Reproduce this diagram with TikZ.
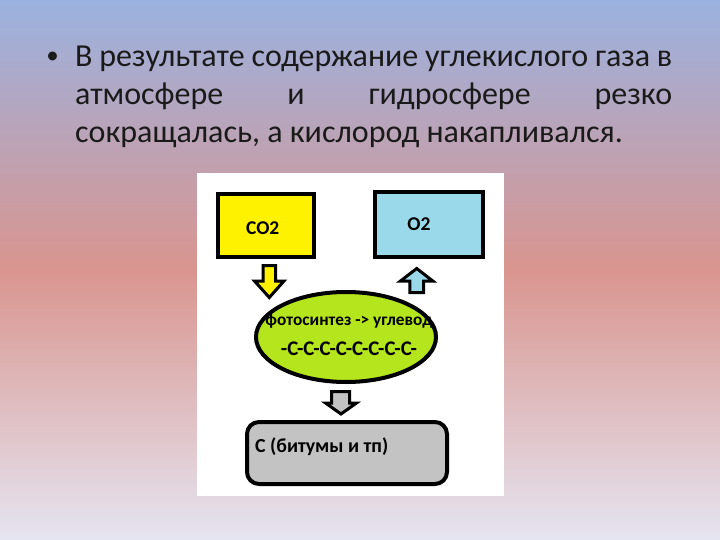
\documentclass[tikz,border=0pt]{standalone}
\usepackage{fontspec}
\setmainfont{Carlito}
\usetikzlibrary{shapes.geometric}
\definecolor{bgtop}{HTML}{9BB2E0}
\definecolor{bgmid}{HTML}{D9958F}
\definecolor{bgbot}{HTML}{E5E5F1}
\definecolor{yel}{HTML}{FFF200}
\definecolor{sky}{HTML}{99D9EA}
\definecolor{lime}{HTML}{B5E61D}
\definecolor{grayfill}{HTML}{C3C3C3}
\definecolor{ink}{HTML}{1A1A1A}
\begin{document}
\begin{tikzpicture}[x=1pt,y=-1pt,
  titletext/.style={anchor=base west,inner sep=0pt,font=\fontsize{32}{34}\selectfont,text=ink},
  boxstyle/.style={draw=black,line width=4pt,inner sep=0pt},
  lbl/.style={inner sep=0pt,font=\bfseries\fontsize{19.5}{21}\selectfont},
  blockarrow/.style={draw=black,line width=3pt,miter limit=10}]
\useasboundingbox (0,0) rectangle (720,540);
\shade[top color=bgtop,bottom color=bgbot,middle color=bgmid] (0,0) rectangle (720,540);
% title
\node[inner sep=0pt,anchor=center,font=\fontsize{25}{26}\selectfont,text=ink] (bul) at (52.7,57.7) {•};
\node[titletext] (l1) at (75,66.5) {\makebox[597pt][s]{В результате содержание углекислого газа в}};
\node[titletext] (l2) at (75,105) {\makebox[597pt][s]{атмосфере\hfill и\hfill гидросфере\hfill резко}};
\node[titletext] (l3) at (75,142.5) {сокращалась, а кислород накапливался.};
% white panel
\fill[white] (197,173) rectangle (504,496);
% boxes
\node[boxstyle,fill=yel,minimum width=96pt,minimum height=62pt] (co2) at (265.7,225.5) {};
\node[lbl,anchor=base] (co2t) at (262.7,234) {CO2};
\node[boxstyle,fill=sky,minimum width=108pt,minimum height=64pt] (o2) at (429.2,224.5) {};
\node[lbl,anchor=base] (o2t) at (419,230) {O2};
\node[ellipse,draw=black,line width=4pt,fill=lime,minimum width=180pt,minimum height=90pt,inner sep=0pt] (ph) at (346,337) {};
\node[inner sep=0pt,anchor=base,font=\bfseries\fontsize{17.3}{18}\selectfont] (pht) at (349,325) {фотосинтез -> углевод};
\node[inner sep=0pt,anchor=base,font=\bfseries\fontsize{20.8}{22}\selectfont] (cc) at (349,355) {-C-C-C-C-C-C-C-C-};
\node[boxstyle,fill=grayfill,rounded corners=12pt,minimum width=200pt,minimum height=62pt] (cb) at (347,453) {};
\node[inner sep=0pt,anchor=base west,font=\bfseries\fontsize{19.9}{21}\selectfont] (cbt) at (255,452) {С (битумы и тп)};
% block arrows
\draw[blockarrow,fill=yel] (263,265.5) -- (275.5,265.5) -- (275.5,281) -- (284,281) -- (269.3,297.5) -- (254.5,281) -- (263,281) -- cycle;
\draw[blockarrow,fill=sky] (409.8,292.5) -- (423.5,292.5) -- (423.5,281) -- (432.8,281) -- (416.7,268.5) -- (400.5,281) -- (409.8,281) -- cycle;
\draw[blockarrow,fill=grayfill] (331.5,391.5) -- (349.5,391.5) -- (349.5,403) -- (356.5,403) -- (341,414) -- (325.5,403) -- (331.5,403) -- cycle;
\end{tikzpicture}
\end{document}
